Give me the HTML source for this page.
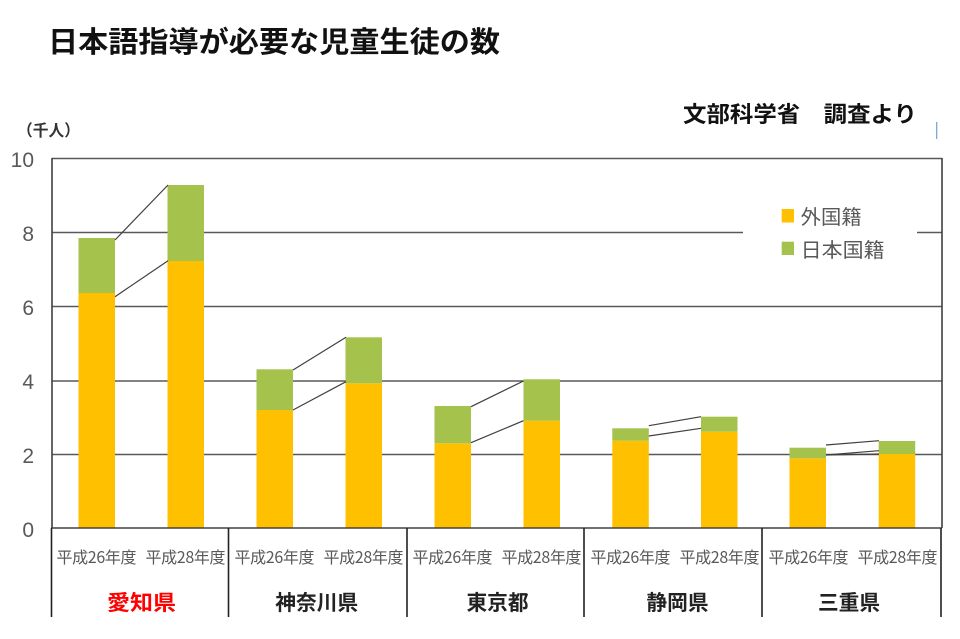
<!DOCTYPE html>
<html><head><meta charset="utf-8">
<style>
html,body{margin:0;padding:0;background:#fff;}
svg{display:block;}
text{font-family:"Liberation Sans","Noto Sans CJK JP",sans-serif;}
.cjk{font-family:"Noto Sans CJK JP","Liberation Sans",sans-serif;}
</style></head>
<body>
<svg width="960" height="639" viewBox="0 0 960 639" xmlns="http://www.w3.org/2000/svg">
<rect width="960" height="639" fill="#fff"/>
<!-- title -->
<text class="cjk" x="48" y="52" font-size="29" font-weight="bold" fill="#111" textLength="452" lengthAdjust="spacingAndGlyphs">日本語指導が必要な児童生徒の数</text>
<text class="cjk" x="683" y="122" font-size="22" font-weight="bold" fill="#111" textLength="234" lengthAdjust="spacingAndGlyphs">文部科学省　調査より</text>
<line x1="936.7" y1="122" x2="936.7" y2="139" stroke="#6fa0d0" stroke-width="1.2"/>
<text class="cjk" x="17" y="136" font-size="16" font-weight="bold" fill="#333" textLength="63" lengthAdjust="spacingAndGlyphs">（千人）</text>

<!-- gridlines -->
<g stroke="#595959" stroke-width="1.6">
<line x1="52" y1="158.5" x2="942" y2="158.5"/>
<line x1="52" y1="232.5" x2="942" y2="232.5"/>
<line x1="52" y1="306.5" x2="942" y2="306.5"/>
<line x1="52" y1="381" x2="942" y2="381"/>
<line x1="52" y1="454.5" x2="942" y2="454.5"/>
</g>
<!-- y labels -->
<g font-size="21" fill="#595959" text-anchor="end">
<text x="34" y="167">10</text>
<text x="34" y="241">8</text>
<text x="34" y="315">6</text>
<text x="34" y="389">4</text>
<text x="34" y="463">2</text>
<text x="34" y="537">0</text>
</g>

<!-- bars: foreign (orange) from foreign top to 528; japanese (green) from total top to foreign top -->
<g fill="#FFC000">
<rect x="78.5" y="293" width="36.5" height="235"/>
<rect x="167.5" y="261" width="36.5" height="267"/>
<rect x="256.5" y="410" width="36.5" height="118"/>
<rect x="345.5" y="383.3" width="36.5" height="144.7"/>
<rect x="434.5" y="443.3" width="36.5" height="84.7"/>
<rect x="523.5" y="420.7" width="36.5" height="107.3"/>
<rect x="612.3" y="440.7" width="36.5" height="87.3"/>
<rect x="701" y="431.7" width="36.5" height="96.3"/>
<rect x="789.5" y="458.3" width="36.5" height="69.7"/>
<rect x="878.7" y="454" width="36.5" height="74"/>
</g>
<g fill="#A4C24C">
<rect x="78.5" y="238" width="36.5" height="55"/>
<rect x="167.5" y="185" width="36.5" height="76"/>
<rect x="256.5" y="369.3" width="36.5" height="40.7"/>
<rect x="345.5" y="337.3" width="36.5" height="46"/>
<rect x="434.5" y="406" width="36.5" height="37.3"/>
<rect x="523.5" y="379.3" width="36.5" height="41.4"/>
<rect x="612.3" y="428.3" width="36.5" height="12.4"/>
<rect x="701" y="416.7" width="36.5" height="15"/>
<rect x="789.5" y="447.7" width="36.5" height="10.6"/>
<rect x="878.7" y="441" width="36.5" height="13"/>
</g>

<!-- connectors -->
<g stroke="#404040" stroke-width="1.2" fill="none">
<line x1="115" y1="240" x2="168" y2="185"/>
<line x1="115" y1="296.7" x2="168" y2="260.7"/>
<line x1="293" y1="370" x2="346" y2="337.3"/>
<line x1="293" y1="410" x2="346" y2="381.7"/>
<line x1="471" y1="406.7" x2="523.5" y2="381"/>
<line x1="471" y1="442.7" x2="523.5" y2="420.7"/>
<line x1="648.8" y1="425.7" x2="701" y2="416.7"/>
<line x1="648.8" y1="436" x2="701" y2="428.3"/>
<line x1="826" y1="445" x2="879" y2="440.7"/>
<line x1="826" y1="455" x2="879" y2="450.7"/>
<line x1="826" y1="455" x2="879" y2="454"/>
</g>

<!-- axes -->
<g stroke="#404040" stroke-width="1.6">
<line x1="52" y1="158" x2="52" y2="528"/>
<line x1="942" y1="158" x2="942" y2="528"/>
<line x1="51" y1="528" x2="942" y2="528"/>
</g>
<g stroke="#222" stroke-width="1.6">
<line x1="51.5" y1="528" x2="51.5" y2="617"/>
<line x1="228.5" y1="528" x2="228.5" y2="617"/>
<line x1="407" y1="528" x2="407" y2="617"/>
<line x1="584" y1="528" x2="584" y2="617"/>
<line x1="762" y1="528" x2="762" y2="617"/>
<line x1="941" y1="528" x2="941" y2="617"/>
</g>

<!-- legend -->
<rect x="743" y="196" width="174" height="70" fill="#fff"/>
<rect x="781.7" y="209" width="12.3" height="13.5" fill="#FFC000"/>
<rect x="781.7" y="241.7" width="12.3" height="13.3" fill="#A4C24C"/>
<text class="cjk" x="800.7" y="224" font-size="20" fill="#595959" textLength="61" lengthAdjust="spacingAndGlyphs">外国籍</text>
<text class="cjk" x="800.7" y="257" font-size="20" fill="#595959" textLength="84" lengthAdjust="spacingAndGlyphs">日本国籍</text>

<!-- year labels -->
<g class="cjk" font-size="16" fill="#595959" text-anchor="middle" lengthAdjust="spacingAndGlyphs">
<text class="cjk" x="96.5" y="563" textLength="80">平成26年度</text>
<text class="cjk" x="185.5" y="563" textLength="80">平成28年度</text>
<text class="cjk" x="274.5" y="563" textLength="80">平成26年度</text>
<text class="cjk" x="363.5" y="563" textLength="80">平成28年度</text>
<text class="cjk" x="452.5" y="563" textLength="80">平成26年度</text>
<text class="cjk" x="541.5" y="563" textLength="80">平成28年度</text>
<text class="cjk" x="630.5" y="563" textLength="80">平成26年度</text>
<text class="cjk" x="719.5" y="563" textLength="80">平成28年度</text>
<text class="cjk" x="808.5" y="563" textLength="80">平成26年度</text>
<text class="cjk" x="897.5" y="563" textLength="80">平成28年度</text>
</g>

<!-- prefecture labels -->
<g font-size="21" font-weight="bold" text-anchor="middle">
<text class="cjk" x="141.5" y="610" fill="#ff0000" textLength="69" lengthAdjust="spacingAndGlyphs">愛知県</text>
<text class="cjk" x="316.7" y="610" fill="#222" textLength="83" lengthAdjust="spacingAndGlyphs">神奈川県</text>
<text class="cjk" x="497.5" y="610" fill="#222" textLength="62" lengthAdjust="spacingAndGlyphs">東京都</text>
<text class="cjk" x="677.5" y="610" fill="#222" textLength="62" lengthAdjust="spacingAndGlyphs">静岡県</text>
<text class="cjk" x="849" y="610" fill="#222" textLength="62" lengthAdjust="spacingAndGlyphs">三重県</text>
</g>
</svg>
</body></html>
